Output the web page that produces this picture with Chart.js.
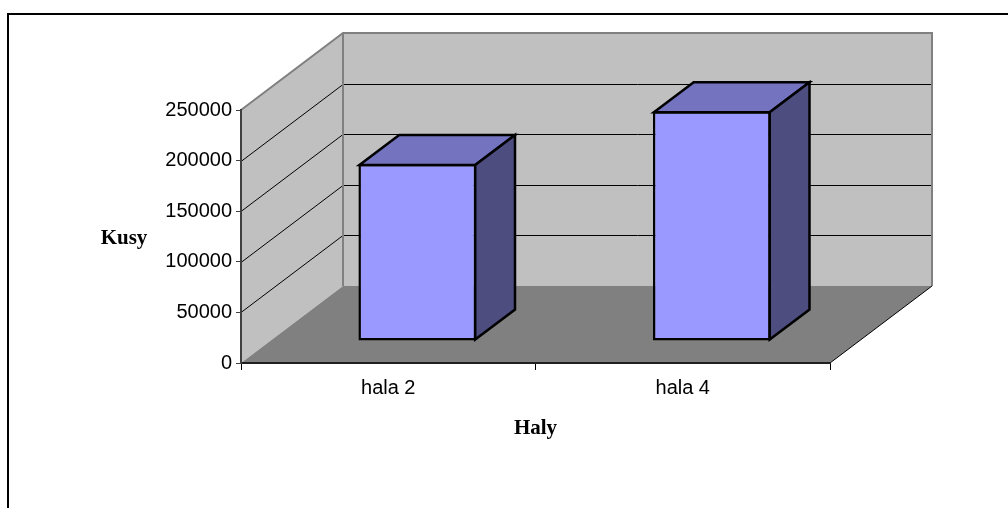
<!DOCTYPE html>
<html><head><meta charset="utf-8">
<script src="https://cdn.jsdelivr.net/npm/chart.js@4/dist/chart.umd.min.js"></script>
<style>html,body{margin:0;padding:0;background:#fff}#wrap{width:1008px;height:508px}</style>
</head><body><div id="wrap"><canvas id="c" width="1008" height="508"></canvas></div>
<script>
// ---- data ----
const categories = ['hala 2', 'hala 4'];
const pieces = [175000, 227000];
const yMin = 0;
const yMax = 250000;
const yStep = 50000;
const yTitle = 'Kusy';
const xTitle = 'Haly';

// ---- 3D look ----
const DX = 102, DY = -77;          // depth of the floor / walls
const BAR_FRONT = 0.285, BAR_BACK = 0.675;
const WALL = '#c0c0c0', FLOOR = '#808080';
const FRONT = '#9999ff', TOP = '#7373bf', SIDE = '#4d4d80';

const scene = {
  id: 'scene3d',
  beforeDraw(chart) {
    const {ctx, chartArea: a, scales: {y}} = chart;
    const L = a.left, R = a.right, T = a.top, B = a.bottom;
    ctx.save();
    // outer frame
    ctx.strokeStyle = '#000'; ctx.lineWidth = 2;
    ctx.beginPath(); ctx.moveTo(8, 510); ctx.lineTo(8, 14); ctx.lineTo(1010, 14); ctx.stroke();
    // side wall
    ctx.fillStyle = WALL;
    ctx.beginPath(); ctx.moveTo(L, B); ctx.lineTo(L, T); ctx.lineTo(L + DX, T + DY); ctx.lineTo(L + DX, B + DY); ctx.closePath(); ctx.fill();
    // back wall
    ctx.fillRect(L + DX, T + DY, R - L, B - T);
    // floor
    ctx.fillStyle = FLOOR;
    ctx.beginPath(); ctx.moveTo(L, B); ctx.lineTo(L + DX, B + DY); ctx.lineTo(R + DX, B + DY); ctx.lineTo(R, B); ctx.closePath(); ctx.fill();
    // grid lines on walls
    ctx.strokeStyle = '#000'; ctx.lineWidth = 1;
    y.ticks.forEach(t => {
      if (t.value <= yMin || t.value >= yMax) return;
      const py = Math.round(y.getPixelForValue(t.value)) + 0.5;
      ctx.beginPath(); ctx.moveTo(L, py); ctx.lineTo(L + DX, py + DY); ctx.lineTo(R + DX, py + DY); ctx.stroke();
    });
    // wall edges
    ctx.strokeStyle = '#808080'; ctx.lineWidth = 2;
    ctx.beginPath(); ctx.moveTo(L, T); ctx.lineTo(L + DX, T + DY); ctx.lineTo(R + DX, T + DY); ctx.lineTo(R + DX, B + DY);
    ctx.moveTo(L + DX, T + DY); ctx.lineTo(L + DX, B + DY); ctx.stroke();
    // floor right edge
    ctx.strokeStyle = '#000'; ctx.lineWidth = 1;
    ctx.beginPath(); ctx.moveTo(R, B); ctx.lineTo(R + DX, B + DY); ctx.stroke();
    ctx.restore();
  },
  beforeDatasetsDraw(chart) {
    chart.ctx.save();
    chart.ctx.translate(DX * BAR_FRONT, DY * BAR_FRONT);
  },
  afterDatasetsDraw(chart) {
    const ctx = chart.ctx;
    ctx.restore();
    const ox = DX * BAR_FRONT, oy = DY * BAR_FRONT;
    const bdx = DX * (BAR_BACK - BAR_FRONT), bdy = DY * (BAR_BACK - BAR_FRONT);
    ctx.save();
    ctx.lineWidth = 2.5; ctx.strokeStyle = '#000'; ctx.lineJoin = 'miter';
    chart.getDatasetMeta(0).data.forEach(el => {
      const p = el.getProps(['x', 'y', 'base', 'width'], true);
      const l = p.x - p.width / 2 + ox + 1, r = p.x + p.width / 2 + ox - 1;
      const t = p.y + oy + 1, b = p.base + oy - 1;
      ctx.fillStyle = TOP;
      ctx.beginPath(); ctx.moveTo(l, t); ctx.lineTo(l + bdx, t + bdy); ctx.lineTo(r + bdx, t + bdy); ctx.lineTo(r, t); ctx.closePath(); ctx.fill(); ctx.stroke();
      ctx.fillStyle = SIDE;
      ctx.beginPath(); ctx.moveTo(r, t); ctx.lineTo(r + bdx, t + bdy); ctx.lineTo(r + bdx, b + bdy); ctx.lineTo(r, b); ctx.closePath(); ctx.fill(); ctx.stroke();
    });
    ctx.restore();
  },
  afterDraw(chart) {
    const ctx = chart.ctx;
    ctx.save();
    ctx.fillStyle = '#000';
    ctx.font = 'bold 21px "Liberation Serif", "Times New Roman", serif';
    ctx.textAlign = 'center'; ctx.textBaseline = 'middle';
    ctx.fillText(yTitle, 124, 239);
    ctx.restore();
  }
};

new Chart(document.getElementById('c'), {
  type: 'bar',
  data: {
    labels: categories,
    datasets: [{
      data: pieces,
      backgroundColor: FRONT,
      borderColor: '#000',
      borderWidth: 2.5,
      borderSkipped: false,
      categoryPercentage: 1,
      barPercentage: 0.4
    }]
  },
  options: {
    responsive: false,
    animation: false,
    devicePixelRatio: 1,
    layout: {padding: {top: 110, right: 178, bottom: 67, left: 0}},
    plugins: {legend: {display: false}, tooltip: {enabled: false}},
    scales: {
      x: {
        offset: true,
        grid: {display: true, offset: true, drawOnChartArea: false, drawTicks: true, tickLength: 7, color: '#000', tickColor: '#000', lineWidth: 1},
        border: {display: true, color: '#202020', width: 2},
        ticks: {color: '#000', font: {family: '"Liberation Sans", Arial, sans-serif', size: 20}, padding: 6, maxRotation: 0},
        title: {display: true, text: xTitle, color: '#000', font: {family: '"Liberation Serif", "Times New Roman", serif', size: 21, weight: 'bold'}, padding: {top: 12, bottom: 0}},
        afterFit(s) { s.height = 78; }
      },
      y: {
        min: yMin, max: yMax,
        ticks: {stepSize: yStep, callback: v => String(v), color: '#000', font: {family: '"Liberation Sans", Arial, sans-serif', size: 20}, padding: 4},
        grid: {drawOnChartArea: false, drawTicks: true, tickLength: 5, tickColor: '#404040', lineWidth: 1},
        border: {display: true, color: '#404040', width: 2},
        afterFit(s) { s.width = 241; }
      }
    }
  },
  plugins: [scene]
});
</script>
</body></html>
